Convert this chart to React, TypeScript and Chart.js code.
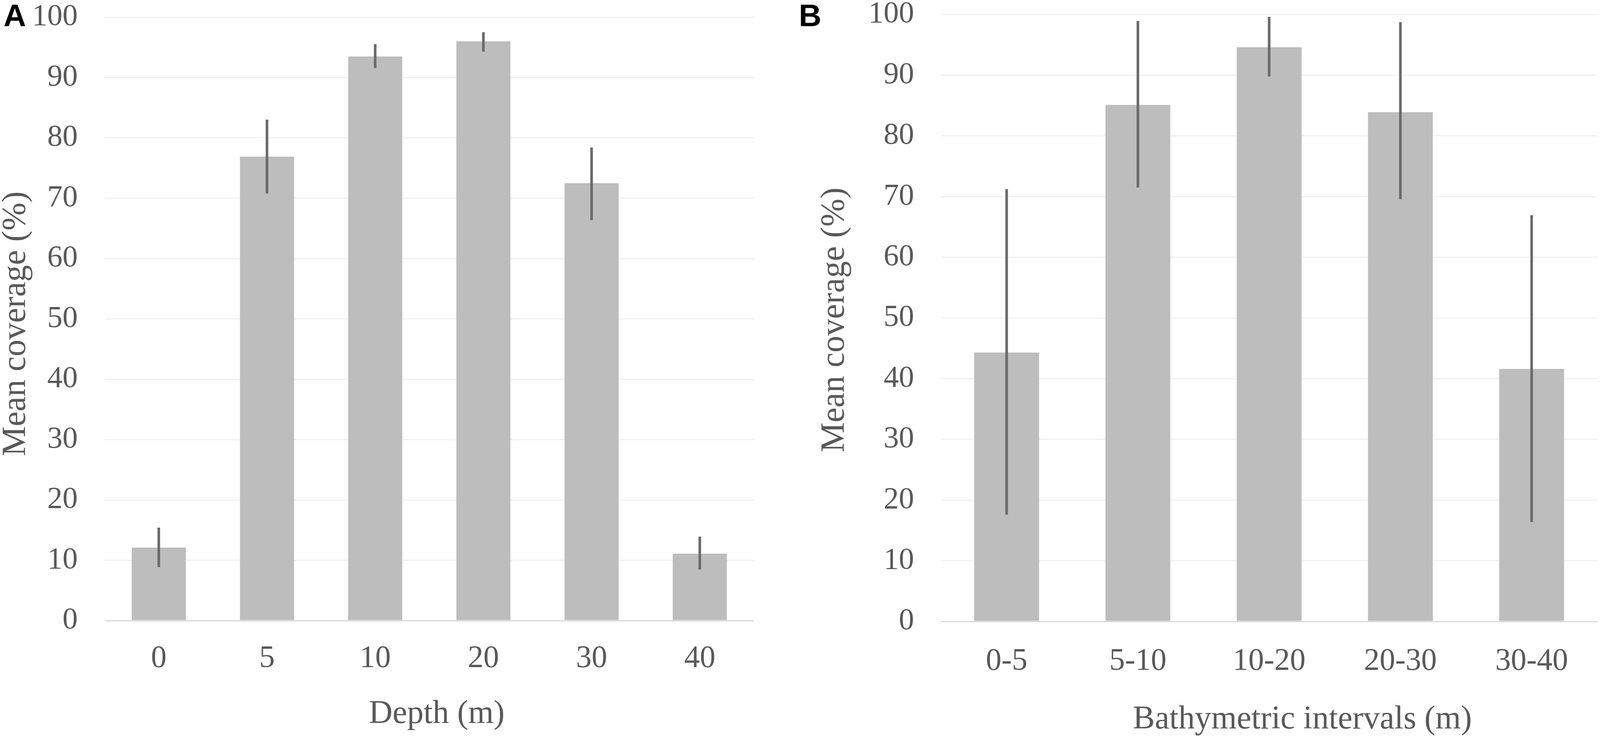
import React, { useEffect, useRef } from 'react';
import { Chart, ChartConfiguration, Plugin, registerables } from 'chart.js';

Chart.register(...registerables);

const depthLabels = ['0', '5', '10', '20', '30', '40'];
const depthMeans = [12.1, 76.9, 93.5, 96, 72.5, 11.1];
const depthErrLow = [8.9, 70.8, 91.6, 94.3, 66.4, 8.5];
const depthErrHigh = [15.4, 83, 95.5, 97.5, 78.4, 13.9];

const bathyLabels = ['0-5', '5-10', '10-20', '20-30', '30-40'];
const bathyMeans = [44.3, 85.1, 94.6, 83.9, 41.6];
const bathyErrLow = [17.6, 71.5, 89.8, 69.6, 16.4];
const bathyErrHigh = [71.2, 98.9, 99.6, 98.7, 66.9];

const SERIF = '"Liberation Serif", serif';
const TEXT_COLOR = '#595959';
const FULL_WIDTH = 4562;
const HEIGHT = 1892;

interface PanelProps {
  letter: string;
  letterX: number;
  labels: string[];
  means: number[];
  errLow: number[];
  errHigh: number[];
  xTitle: string;
  xTitleX: number;
  xTitleY: number;
  yTitleX: number;
  yTitleY: number;
  width: number;
  plotLeft: number;
  plotRight: number;
  plotTop: number;
  plotBottom: number;
  barPercentage: number;
  xPadding: number;
}

// the browser can come up narrower than the figure (4096px wide when tested),
// so horizontal layout follows the window instead of clipping panel B
const fitX = (v: number) => Math.round((v * Math.min(window.innerWidth, FULL_WIDTH)) / FULL_WIDTH);

const Panel: React.FC<PanelProps> = (p) => {
  const canvasRef = useRef<HTMLCanvasElement>(null);
  const width = fitX(p.width);

  useEffect(() => {
    if (!canvasRef.current) return;

    // panel letter and axis titles sit off-centre in the original
    const panelText: Plugin<'bar'> = {
      id: 'panelText',
      afterDraw: (chart) => {
        const ctx = chart.ctx;
        ctx.save();
        ctx.textBaseline = 'alphabetic';
        ctx.fillStyle = '#000';
        ctx.font = 'bold 80px "Liberation Sans", sans-serif';
        ctx.textAlign = 'left';
        ctx.fillText(p.letter, fitX(p.letterX), 67);

        ctx.fillStyle = TEXT_COLOR;
        ctx.font = `84px ${SERIF}`;
        ctx.textAlign = 'center';
        ctx.fillText(p.xTitle, fitX(p.xTitleX), p.xTitleY);

        ctx.font = `86px ${SERIF}`;
        ctx.translate(fitX(p.yTitleX), p.yTitleY);
        ctx.rotate(-Math.PI / 2);
        ctx.fillText('Mean coverage (%)', 0, 0);
        ctx.restore();
      }
    };

    const config: ChartConfiguration<'bar'> = {
      type: 'bar',
      data: {
        labels: p.labels,
        datasets: [
          {
            label: 'Error',
            data: p.errLow.map((low, i) => [low, p.errHigh[i]]) as any,
            backgroundColor: '#6a6a6a',
            barThickness: 6,
            grouped: false,
            order: 0
          },
          {
            label: 'Mean coverage',
            data: p.means,
            backgroundColor: '#bdbdbd',
            barPercentage: p.barPercentage,
            categoryPercentage: 1,
            grouped: false,
            order: 1
          }
        ]
      },
      options: {
        responsive: false,
        animation: false,
        devicePixelRatio: 1,
        layout: {
          padding: {
            left: 0,
            right: width - fitX(p.plotRight),
            top: p.plotTop,
            bottom: 0
          }
        },
        plugins: {
          legend: { display: false },
          title: { display: false },
          tooltip: { enabled: false }
        },
        scales: {
          x: {
            border: { display: false },
            grid: { display: false, drawTicks: false },
            ticks: {
              color: TEXT_COLOR,
              autoSkip: false,
              maxRotation: 0,
              padding: p.xPadding,
              font: { family: SERIF, size: 80, lineHeight: 0.9 }
            },
            afterFit: (scale) => {
              scale.height = HEIGHT - p.plotBottom;
            }
          },
          y: {
            min: 0,
            max: 100,
            border: { display: false },
            grid: {
              // the gap to the labels is a hidden tick: ticks.padding would also pad the top of the plot
              drawTicks: true,
              tickLength: fitX(77),
              tickColor: 'transparent',
              lineWidth: 3,
              color: (c) => (c.tick.value === 0 ? '#d9d9d9' : '#f1f1f1')
            },
            ticks: {
              stepSize: 10,
              color: TEXT_COLOR,
              padding: 0,
              font: { family: SERIF, size: 78, lineHeight: 0.9 }
            },
            afterFit: (scale) => {
              scale.width = fitX(p.plotLeft);
            }
          }
        }
      },
      plugins: [panelText]
    };

    const chart = new Chart(canvasRef.current, config);
    return () => chart.destroy();
  }, [p, width]);

  return (
    <canvas
      ref={canvasRef}
      width={width}
      height={HEIGHT}
      style={{ display: 'block', flex: 'none', width, height: HEIGHT }}
    />
  );
};

const panelA: PanelProps = {
  letter: 'A',
  letterX: 10,
  labels: depthLabels,
  means: depthMeans,
  errLow: depthErrLow,
  errHigh: depthErrHigh,
  xTitle: 'Depth (m)',
  xTitleX: 1245,
  xTitleY: 1851,
  yTitleX: 71,
  yTitleY: 829,
  width: 2240,
  plotLeft: 298,
  plotRight: 2150,
  plotTop: 44,
  plotBottom: 1589,
  barPercentage: 0.5,
  xPadding: 62
};

const panelB: PanelProps = {
  letter: 'B',
  letterX: 38,
  labels: bathyLabels,
  means: bathyMeans,
  errLow: bathyErrLow,
  errHigh: bathyErrHigh,
  xTitle: 'Bathymetric intervals (m)',
  xTitleX: 1473,
  xTitleY: 1865,
  yTitleX: 166,
  yTitleY: 819,
  width: 2322,
  plotLeft: 443,
  plotRight: 2314,
  plotTop: 37,
  plotBottom: 1591,
  barPercentage: 0.494,
  xPadding: 67
};

export default function App() {
  useEffect(() => {
    document.body.style.margin = '0';
  }, []);

  return (
    <div style={{ display: 'flex', width: fitX(FULL_WIDTH), height: HEIGHT, background: '#fff', overflow: 'hidden' }}>
      <Panel {...panelA} />
      <Panel {...panelB} />
    </div>
  );
}
